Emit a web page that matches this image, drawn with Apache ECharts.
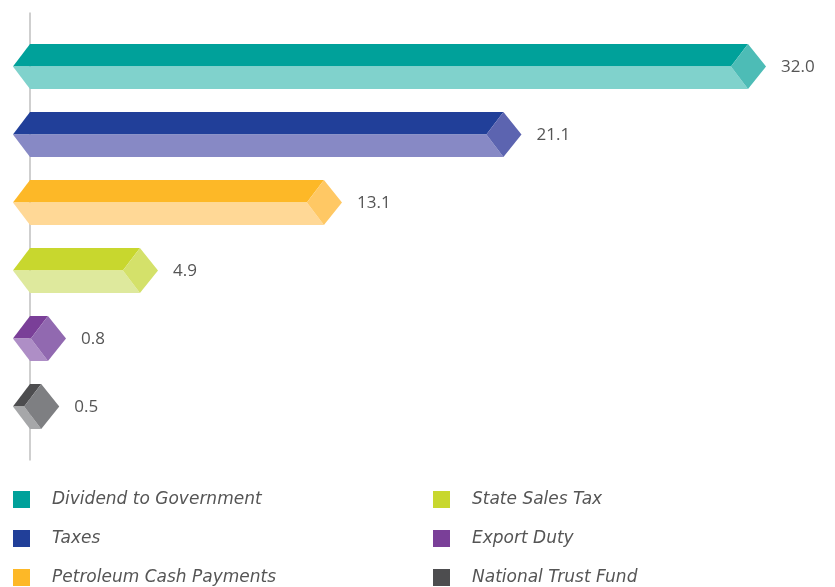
<!DOCTYPE html>
<html>
<head>
<meta charset="utf-8">
<script src="https://cdn.jsdelivr.net/npm/echarts@6/dist/echarts.min.js"></script>
<style>
html,body{margin:0;padding:0;background:#fff;}
#chart{width:835px;height:587px;}
</style>
</head>
<body>
<div id="chart"></div>
<script>
// Data
const categories = ['Dividend to Government', 'Taxes', 'Petroleum Cash Payments', 'State Sales Tax', 'Export Duty', 'National Trust Fund'];
const values = [32.0, 21.1, 13.1, 4.9, 0.8, 0.5];

// Styles (top face, bottom face, end cap)
const topColors = ['#00A19A', '#213F99', '#FDB827', '#C8D72E', '#7A3F98', '#4D4D4F'];
const bottomColors = ['#80D2CC', '#8789C5', '#FFD896', '#DEE99D', '#AE8EC6', '#A6A7A9'];
const capColors = ['#4DBCB6', '#5C64B0', '#FFC864', '#D4E16A', '#9169B0', '#7E7F82'];

const chart = echarts.init(document.getElementById('chart'));

function makeRender(i) {
  return function (params, api) {
    const cat = api.value(1);
    const p0 = api.coord([0, cat]);
    const p1 = api.coord([api.value(0), cat]);
    const band = api.size([0, 1])[1];
    const h = band * 0.33;
    const d = h * 0.76;
    const x0 = p0[0], x1 = p1[0], y = p1[1];
    const top = y - h, bot = y + h;
    const children = [];
    if (i === 0) {
      const cs = params.coordSys;
      children.push({
        type: 'line',
        shape: { x1: x0, y1: cs.y - 20, x2: x0, y2: cs.y + cs.height + 20 },
        style: { stroke: '#CFCFCF', lineWidth: 2 },
        z2: 0
      });
    }
    children.push({
      type: 'polygon',
      shape: { points: [[x0, top], [x1, top], [x1 - d, y], [x0 - d, y]] },
      style: { fill: topColors[i] }, z2: 2
    });
    children.push({
      type: 'polygon',
      shape: { points: [[x0 - d, y], [x1 - d, y], [x1, bot], [x0, bot]] },
      style: { fill: bottomColors[i] }, z2: 2
    });
    children.push({
      type: 'polygon',
      shape: { points: [[x1 - d, y], [x1, top], [x1 + d + 1, y], [x1, bot]] },
      style: { fill: capColors[i] }, z2: 3
    });
    children.push({
      type: 'text',
      style: {
        text: api.value(0).toFixed(1),
        x: x1 + d + 16, y: y + 1,
        verticalAlign: 'middle', align: 'left',
        fill: '#555555', fontSize: 17, fontFamily: 'Open Sans'
      }, z2: 4
    });
    return { type: 'group', children: children };
  };
}

const series = categories.map((name, i) => ({
  name: name,
  type: 'custom',
  coordinateSystem: 'cartesian2d',
  itemStyle: { color: topColors[i] },
  renderItem: makeRender(i),
  encode: { x: 0, y: 1 },
  data: [[values[i], name]],
  clip: false,
  silent: true
}));

const legendText = {
  color: '#555555', fontSize: 17, fontStyle: 'italic', fontFamily: 'DejaVu Sans',
  lineHeight: 17, padding: [0, 0, 0, 17]
};

function legendAt(names, left) {
  return {
    data: names, orient: 'vertical', left: left, top: 491, height: 120,
    padding: 0, icon: 'rect', itemWidth: 17, itemHeight: 17, itemGap: 22,
    textStyle: legendText, selectedMode: false
  };
}

chart.setOption({
  animation: false,
  grid: { left: 30, right: 87, top: 32.5, height: 408 },
  xAxis: {
    type: 'value', min: 0, max: Math.max(...values),
    show: false
  },
  yAxis: {
    type: 'category', data: categories, inverse: true,
    axisLine: { show: false }, axisTick: { show: false }, axisLabel: { show: false },
    splitLine: { show: false }
  },
  legend: [legendAt(categories.slice(0, 3), 13), legendAt(categories.slice(3), 433)],
  series: series
});
</script>
</body>
</html>
